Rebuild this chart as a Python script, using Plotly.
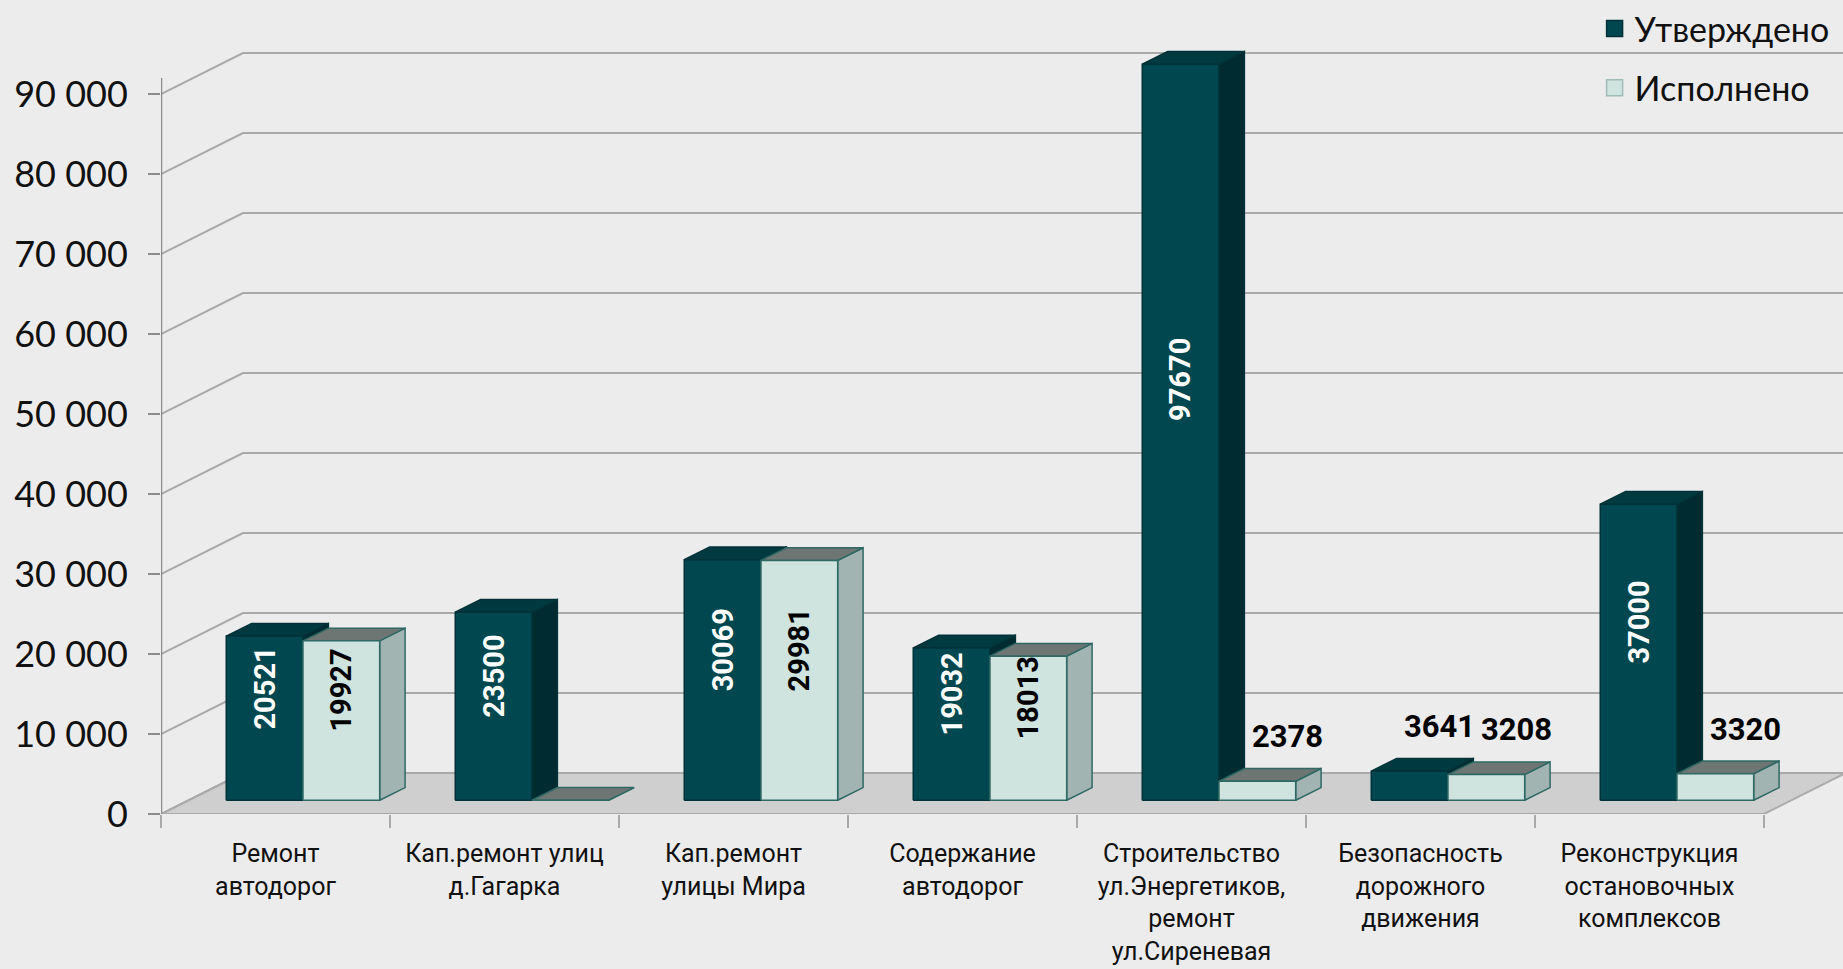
import plotly.graph_objects as go

# data
categories = ["Ремонт<br>автодорог", "Кап.ремонт улиц<br>д.Гагарка", "Кап.ремонт<br>улицы Мира",
              "Содержание<br>автодорог", "Строительство<br>ул.Энергетиков,<br>ремонт<br>ул.Сиреневая",
              "Безопасность<br>дорожного<br>движения", "Реконструкция<br>остановочных<br>комплексов"]
approved = [20521, 23500, 30069, 19032, 97670, 3641, 37000]
executed = [19927, 0, 29981, 18013, 2378, 3208, 3320]
series_names = ["Утверждено", "Исполнено"]
y_ticks = [0, 10000, 20000, 30000, 40000, 50000, 60000, 70000, 80000, 90000]
y_tick_text = ["0", "10 000", "20 000", "30 000", "40 000", "50 000", "60 000", "70 000", "80 000", "90 000"]

# pseudo-3D projection: depth shifts right (category units) and up (value units)
DX, DY = 0.358, 5125
FRONT, BACK = 0.335, 0.645
BAR_W = 0.335
AXIS_MAX = 92000
X_MAX = 6.845
GRID = '#a9a9a9'

n = len(categories)


def pt(x, v, d):
    return x + d * DX, v + d * DY


def polys(boxes, face):
    xs, ys = [], []
    for x0, x1, h in boxes:
        if face == 'front':
            pts = [pt(x0, 0, FRONT), pt(x1, 0, FRONT), pt(x1, h, FRONT), pt(x0, h, FRONT)]
        elif face == 'top':
            pts = [pt(x0, h, FRONT), pt(x1, h, FRONT), pt(x1, h, BACK), pt(x0, h, BACK)]
        else:
            pts = [pt(x1, 0, FRONT), pt(x1, h, FRONT), pt(x1, h, BACK), pt(x1, 0, BACK)]
        for px, py in pts + [pts[0]]:
            xs.append(px)
            ys.append(py)
        xs.append(None)
        ys.append(None)
    return xs, ys


fig = go.Figure()

# floor
fx = [-0.5, n - 0.5, n - 0.5 + DX, -0.5 + DX, -0.5]
fy = [0, 0, DY, DY, 0]
fig.add_trace(go.Scatter(x=fx, y=fy, mode='lines', fill='toself', fillcolor='#cfcfcf',
                         line=dict(color=GRID, width=2), hoverinfo='skip', showlegend=False))

# back wall gridlines + side wall slants
gx, gy = [], []
for v in y_ticks:
    gx += [-0.5, -0.5 + DX, X_MAX + 1, None]
    gy += [v, v + DY, v + DY, None]
fig.add_trace(go.Scatter(x=gx, y=gy, mode='lines', line=dict(color=GRID, width=2),
                         hoverinfo='skip', showlegend=False))

# value axis line
fig.add_trace(go.Scatter(x=[-0.5, -0.5], y=[0, AXIS_MAX], mode='lines',
                         line=dict(color='#8c8c8c', width=2.5), hoverinfo='skip', showlegend=False))

dark_boxes = [(i - BAR_W, i, min(v, AXIS_MAX)) for i, v in enumerate(approved)]
light_boxes = [(i, i + BAR_W, min(v, AXIS_MAX)) for i, v in enumerate(executed)]

styles = [
    (dark_boxes, {'side': '#002b30', 'top': '#003a40', 'front': '#00474f'}, '#003238'),
    (light_boxes, {'side': '#a2b4b1', 'top': '#6d7673', 'front': '#cfe3df'}, '#2f6964'),
]
for boxes, cols, edge in styles:
    for face in ['side', 'top', 'front']:
        xs, ys = polys(boxes, face)
        fig.add_trace(go.Scatter(x=xs, y=ys, mode='lines', fill='toself', fillcolor=cols[face],
                                 line=dict(color=edge, width=1.5), hoverinfo='skip', showlegend=False))

# legend entries
for name, col, edge in [(series_names[0], '#00474f', '#003238'), (series_names[1], '#cfe3df', '#9fbcb8')]:
    fig.add_trace(go.Scatter(x=[None], y=[None], mode='markers', name=name,
                             marker=dict(symbol='square', size=20, color=col, line=dict(color=edge, width=1.5))))

# data labels
for vals, boxes, color in [(approved, dark_boxes, 'white'), (executed, light_boxes, 'black')]:
    for (x0, x1, h), v in zip(boxes, vals):
        if v == 0:
            continue
        cx = (x0 + x1) / 2 + FRONT * DX
        if v >= 10000:
            fig.add_annotation(x=cx, y=v / 2 + 5500, text=f"<b>{v}</b>", textangle=-90, showarrow=False,
                               font=dict(family='Roboto', size=29, color=color))
        else:
            fig.add_annotation(x=cx + 0.13, y=v + 7300, text=f"<b>{v}</b>", showarrow=False,
                               font=dict(family='Liberation Sans Narrow, Roboto', size=31, color='black'))

fig.update_layout(
    width=1843, height=969,
    margin=dict(l=161, r=0, t=0, b=155),
    paper_bgcolor='#ececec', plot_bgcolor='rgba(0,0,0,0)',
    showlegend=True,
    legend=dict(x=0.995, xanchor='right', y=1.0, yanchor='top', bgcolor='rgba(0,0,0,0)',
                font=dict(family='Lato', size=34, color='#111111'), tracegroupgap=12,
                itemsizing='trace'),
    xaxis=dict(range=[-0.5, X_MAX], tickvals=list(range(n)), ticktext=categories, ticks='',
               showgrid=False, zeroline=False, showline=False, ticklabelstandoff=22,
               tickfont=dict(family='Liberation Sans Narrow, Roboto', size=25, color='#111111')),
    xaxis2=dict(range=[-0.5, X_MAX], overlaying='x', side='bottom', tickvals=[i - 0.5 for i in range(n + 1)],
                ticks='outside', ticklen=13, tickcolor=GRID, tickwidth=2, showticklabels=False,
                showgrid=False, zeroline=False, showline=False),
    yaxis=dict(range=[0, 101750], tickvals=y_ticks, ticktext=y_tick_text, ticks='outside', ticklen=12,
               tickcolor='#8c8c8c', tickwidth=2, showgrid=False, zeroline=False, showline=False,
               ticklabelstandoff=13, tickfont=dict(family='Lato', size=36, color='#111111')),
)
# invisible trace so xaxis2 is shown
fig.add_trace(go.Scatter(x=[-0.5], y=[0], xaxis='x2', mode='markers', marker=dict(opacity=0),
                         hoverinfo='skip', showlegend=False))

for tr in fig.data:
    if tr.name in series_names:
        tr.legendgroup = tr.name

fig.write_html("out.html", config={'displayModeBar': False},
               post_script="document.body.style.margin='0';document.body.style.overflow='hidden';")
